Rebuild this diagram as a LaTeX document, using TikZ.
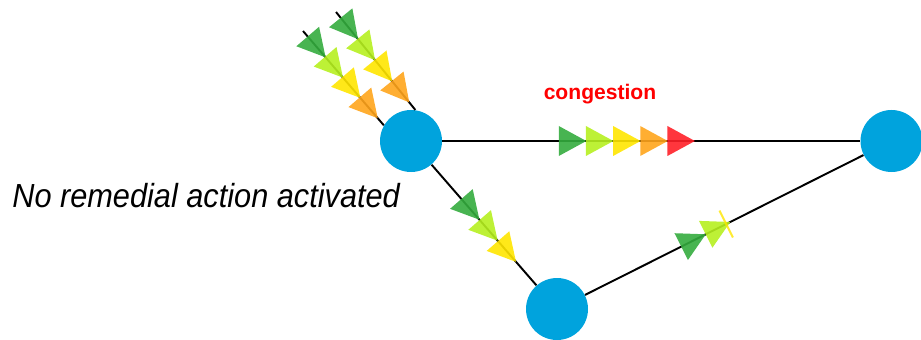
\documentclass[tikz,border=0pt]{standalone}
\usepackage{fontspec}
\setmainfont{Liberation Sans}
\usetikzlibrary{shapes, positioning}

\definecolor{busblue}{RGB}{0,163,221}
\definecolor{flowgreen}{RGB}{52,172,62}
\definecolor{flowlime}{RGB}{182,240,32}
\definecolor{flowyellow}{RGB}{255,230,0}
\definecolor{floworange}{RGB}{255,165,28}
\definecolor{flowred}{RGB}{255,32,40}

\tikzset{
	bus/.style={circle, fill=busblue, minimum size=1.24cm, inner sep=0pt},
	line/.style={line width=1.1pt},
	flow/.style={isosceles triangle, isosceles triangle stretches, inner sep=0pt, minimum width=0.6cm, minimum height=0.55cm, sloped, allow upside down, fill opacity=0.9},
	limit/.style={rectangle, fill=flowyellow, fill opacity=0.8, inner sep=0pt, minimum width=0.04cm, minimum height=0.6cm, sloped, allow upside down}
}

\begin{document}
\begin{tikzpicture}
		\useasboundingbox (0, 0) rectangle (18.42, 6.78);
		\node(A) at (8.22, 3.96)[bus]{};
		\node(B) at (17.83, 3.96)[bus]{};
		\node(C) at (11.14, 0.6)[bus]{};
		\coordinate(IN1) at (6.06, 6.16);
		\coordinate(IN2) at (6.72, 6.54);
		% incoming flows
		\draw[line] (IN1)--(A.150) node[flow, fill=flowgreen, pos=0.13](P1){} node[flow, fill=flowlime, pos=0.345](P2){} node[flow, fill=flowyellow, pos=0.56](P3){} node[flow, fill=floworange, pos=0.775](P4){};
		\draw[line] (IN2)--(A.82) node[flow, fill=flowgreen, pos=0.13](Q1){} node[flow, fill=flowlime, pos=0.345](Q2){} node[flow, fill=flowyellow, pos=0.56](Q3){} node[flow, fill=floworange, pos=0.775](Q4){};
		% lines between buses
		\draw[line] (A)--(B) node[flow, fill=flowgreen, pos=0.3](AB1){} node[flow, fill=flowlime, pos=0.365](AB2){} node[flow, fill=flowyellow, pos=0.43](AB3){} node[flow, fill=floworange, pos=0.495](AB4){} node[flow, fill=flowred, pos=0.56](AB5){};
		\draw[line] (A)--(C) node[flow, fill=flowgreen, pos=0.34](AC1){} node[flow, fill=flowlime, pos=0.514](AC2){} node[flow, fill=flowyellow, pos=0.689](AC3){};
		\draw[line] (C)--(B) node[flow, fill=flowgreen, pos=0.374](CB1){} node[flow, fill=flowlime, pos=0.462](CB2){} node[limit, pos=0.507](CB3){};
		\node(CONG) at (12.0, 4.78)[anchor=base, text=red, font=\bfseries\fontsize{12}{14}\selectfont]{congestion};
		\node(NOACT) at (0.24, 2.64)[anchor=base west, inner sep=0pt, xscale=0.92, font=\itshape\fontsize{19}{22}\selectfont]{No remedial action activated};
\end{tikzpicture}
\end{document}
